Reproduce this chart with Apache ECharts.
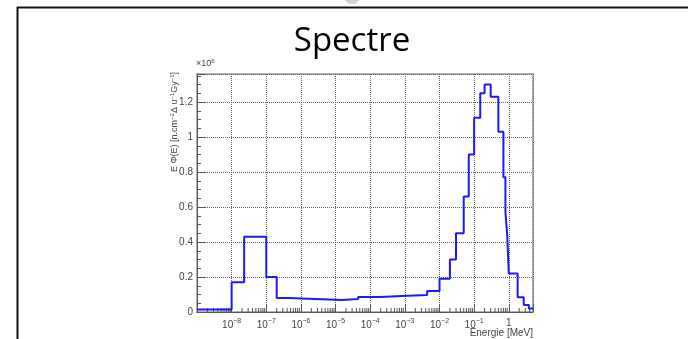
<!DOCTYPE html>
<html>
<head>
<meta charset="utf-8">
<script src="https://cdn.jsdelivr.net/npm/echarts@6/dist/echarts.min.js"></script>
<style>
html,body{margin:0;padding:0;background:#fff;}
#chart{width:688px;height:339px;}
</style>
</head>
<body>
<div id="chart"></div>
<script>
// Histogram bin edges (MeV) and contents (x10^6)
const binEdges = [1e-9, 1e-8, 2.3e-8, 1e-7, 2e-7, 4.4e-7, 1.5e-5, 4.5e-5, 2e-4, 8e-4, 4.4e-3, 1e-2, 2e-2, 3e-2, 5e-2, 7e-2, 0.1, 0.15, 0.2, 0.3, 0.5, 0.7, 0.8, 0.9, 1, 1.8, 2.7, 3.8, 5];
const binValues = [0.015, 0.17, 0.43, 0.20, 0.08, 0.069, 0.074, 0.086, 0.091, 0.097, 0.12, 0.19, 0.30, 0.45, 0.66, 0.90, 1.11, 1.25, 1.30, 1.23, 1.03, 0.77, 0.57, 0.44, 0.22, 0.085, 0.04, 0.02];
const yTickLabels = ['0', '0.2', '0.4', '0.6', '0.8', '1', '1.2'];
const titleText = 'Spectre';
const xName = 'Energie [MeV]';

const lineData = [];
for (let i = 0; i < binValues.length; i++) lineData.push([binEdges[i], binValues[i]]);
lineData.push([binEdges[binEdges.length - 1], binValues[binValues.length - 1]]);

// minor log ticks 2..9 per decade
const minorTicks = [];
for (let d = -9; d <= 0; d++) {
  for (let k = 2; k <= 9; k++) {
    const v = k * Math.pow(10, d);
    if (v < 5) minorTicks.push([v, 0]);
  }
}

const chart = echarts.init(document.getElementById('chart'), null, {renderer: 'canvas'});
const option = {
  animation: false,
  backgroundColor: '#fff',
  textStyle: {fontFamily: 'Liberation Sans, Arial, sans-serif'},
  grid: {left: 197, right: 155, top: 74, bottom: 27, show: true, borderColor: '#999', borderWidth: 1.5, backgroundColor: 'transparent'},
  xAxis: {
    type: 'log', logBase: 10, min: 1e-9, max: 5, splitNumber: 10,
    axisLine: {lineStyle: {color: '#555', width: 1}},
    axisTick: {inside: true, length: 8, lineStyle: {color: '#555'}},
    axisLabel: {
      color: '#444', fontSize: 10, margin: 6,
      formatter: function (v) {
        const l = Math.log10(v);
        const e = Math.round(l);
        if (Math.abs(l - e) > 1e-6) return '';
        if (e === -9) return '';
        if (e === 0) return '1';
        return '10{sup|' + String(e).replace('-', '\u2212') + '}';
      },
      rich: {sup: {fontSize: 7, color: '#444', padding: [0, 0, 7, 0]}}
    },
    splitLine: {show: true, lineStyle: {type: 'dotted', color: '#666', width: 1}}
  },
  yAxis: {
    type: 'value', min: 0, max: 1.36, interval: 0.2,
    axisLine: {show: true, lineStyle: {color: '#555', width: 1}},
    axisTick: {inside: true, length: 8, lineStyle: {color: '#555'}},
    minorTick: {show: true, splitNumber: 4, length: 4, lineStyle: {color: '#555'}},
    axisLabel: {
      color: '#444', fontSize: 10, margin: 4,
      formatter: function (v) {
        const idx = Math.round(v / 0.2);
        if (Math.abs(v / 0.2 - idx) > 1e-6) return '';
        return yTickLabels[idx] || '';
      }
    },
    splitLine: {show: true, lineStyle: {type: 'dotted', color: '#666', width: 1}}
  },
  series: [
    {
      type: 'line', data: lineData, step: 'end', symbol: 'none',
      lineStyle: {color: '#1a1aff', width: 2}, z: 5
    },
    {
      type: 'custom', data: minorTicks, silent: true, z: 4,
      renderItem: function (params, api) {
        const p = api.coord([api.value(0), 0]);
        return {type: 'line', shape: {x1: p[0], y1: p[1], x2: p[0], y2: p[1] - 4}, style: {stroke: '#555', lineWidth: 1}};
      }
    }
  ],
  graphic: [
    {type: 'line', shape: {x1: 17.5, y1: 7, x2: 17.5, y2: 339}, style: {stroke: '#111', lineWidth: 2}},
    {type: 'line', shape: {x1: 17, y1: 7.5, x2: 688, y2: 7.5}, style: {stroke: '#111', lineWidth: 2}},
    {type: 'circle', shape: {cx: 352, cy: -4, r: 8}, style: {fill: '#d0d0d0'}},
    {type: 'text', x: 352, y: 25, style: {text: titleText, font: '33px "Open Sans", sans-serif', fill: '#000', align: 'center', verticalAlign: 'top'}},
    {type: 'text', x: 196, y: 69, style: {text: '\u00d710{s|6}', font: '9px "Liberation Sans", sans-serif', fill: '#444', align: 'left', verticalAlign: 'bottom', rich: {s: {fontSize: 6, padding: [0, 0, 5, 0], fill: '#444'}}}},
    {type: 'text', x: 175, y: 122, rotation: Math.PI / 2, style: {text: 'E \u03a6(E) [n.cm{s|\u22122}\u0394 u{s|\u22121}Gy{s|\u22121}]', font: '9px "Liberation Sans", sans-serif', fill: '#444', align: 'center', verticalAlign: 'middle', rich: {s: {fontSize: 6, padding: [0, 0, 5, 0], fill: '#444'}}}},
    {type: 'text', x: 533, y: 328, style: {text: xName, font: '10px "Liberation Sans", sans-serif', fill: '#444', align: 'right', verticalAlign: 'top'}}
  ]
};
chart.setOption(option);
</script>
</body>
</html>
